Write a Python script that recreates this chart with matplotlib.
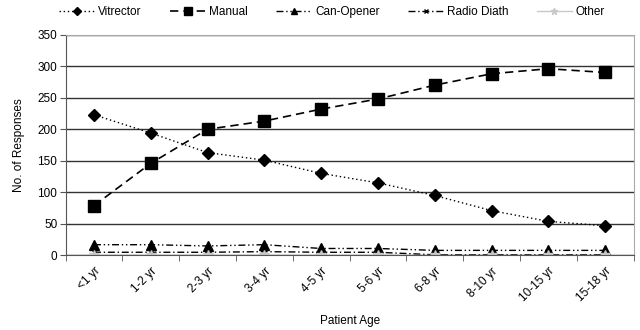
import numpy as np
import matplotlib
matplotlib.use("Agg")
import matplotlib.pyplot as plt
from matplotlib.ticker import FixedLocator

plt.rcParams['font.family'] = ['Liberation Sans', 'DejaVu Sans']

# data
ages = ['<1 yr', '1-2 yr', '2-3 yr', '3-4 yr', '4-5 yr', '5-6 yr',
        '6-8 yr', '8-10 yr', '10-15 yr', '15-18 yr']
vitrector = [223, 194, 163, 151, 130, 115, 95, 71, 54, 47]
manual = [79, 146, 200, 213, 232, 248, 270, 288, 296, 290]
can_opener = [17, 17, 15, 17, 11, 11, 8, 8, 8, 8]
radio_diath = [5, 5, 5, 6, 5, 5, 1, 1, 1, 1]
other = [1, 1, 1, 1, 1, 1, 1, 1, 1, 1]

x = np.arange(len(ages))

fig = plt.figure(figsize=(6.4, 3.3), dpi=100)
ax = fig.add_axes([0.1025, 0.226, 0.8875, 0.669])

ax.plot(x, vitrector, color='black', linestyle=(0, (1, 2)), linewidth=1,
        marker='D', markersize=6.5, label='Vitrector')
ax.plot(x, manual, color='black', linestyle=(0, (5, 3)), linewidth=1.2,
        marker='s', markersize=8.5, label='Manual')
ax.plot(x, can_opener, color='black', linestyle=(0, (5, 2, 1, 2, 1, 2)), linewidth=1,
        marker='^', markersize=7, label='Can-Opener')
ax.plot(x, radio_diath, color='black', linestyle=(0, (5, 2, 1, 2)), linewidth=1,
        marker='x', markersize=5, label='Radio Diath')
ax.plot(x, other, color='#c8c8c8', linestyle='-', linewidth=1,
        marker='*', markersize=7, label='Other')

ax.set_xlim(-0.5, len(ages) - 0.5)
ax.set_ylim(0, 350)
ax.set_yticks(np.arange(0, 351, 50))
ax.yaxis.grid(True, color='#333333', linewidth=1)
ax.set_axisbelow(True)

ax.set_xticks(x)
ax.set_xticklabels(ages, rotation=45, ha='right', rotation_mode='anchor', fontsize=8.5)
ax.tick_params(axis='x', which='major', length=0, pad=7)
ax.xaxis.set_minor_locator(FixedLocator(np.arange(-0.5, len(ages), 1)))
ax.tick_params(axis='x', which='minor', length=4, color='#555555')
ax.tick_params(axis='y', labelsize=8.5, length=4, color='#555555', pad=2)

for s in ['left', 'bottom']:
    ax.spines[s].set_color('#555555')
for s in ['top', 'right']:
    ax.spines[s].set_color('#aaaaaa')

ax.set_xlabel('Patient Age', fontsize=8.5, labelpad=8)
ax.set_ylabel('No. of Responses', fontsize=8.5, labelpad=9)

fig.legend(loc='upper center', bbox_to_anchor=(0.519, 1.015), ncol=5, frameon=False,
           fontsize=8.5, handlelength=3.0, columnspacing=2.4, handletextpad=0.3,
           markerscale=0.65)

fig.savefig('out.png', dpi=100)
